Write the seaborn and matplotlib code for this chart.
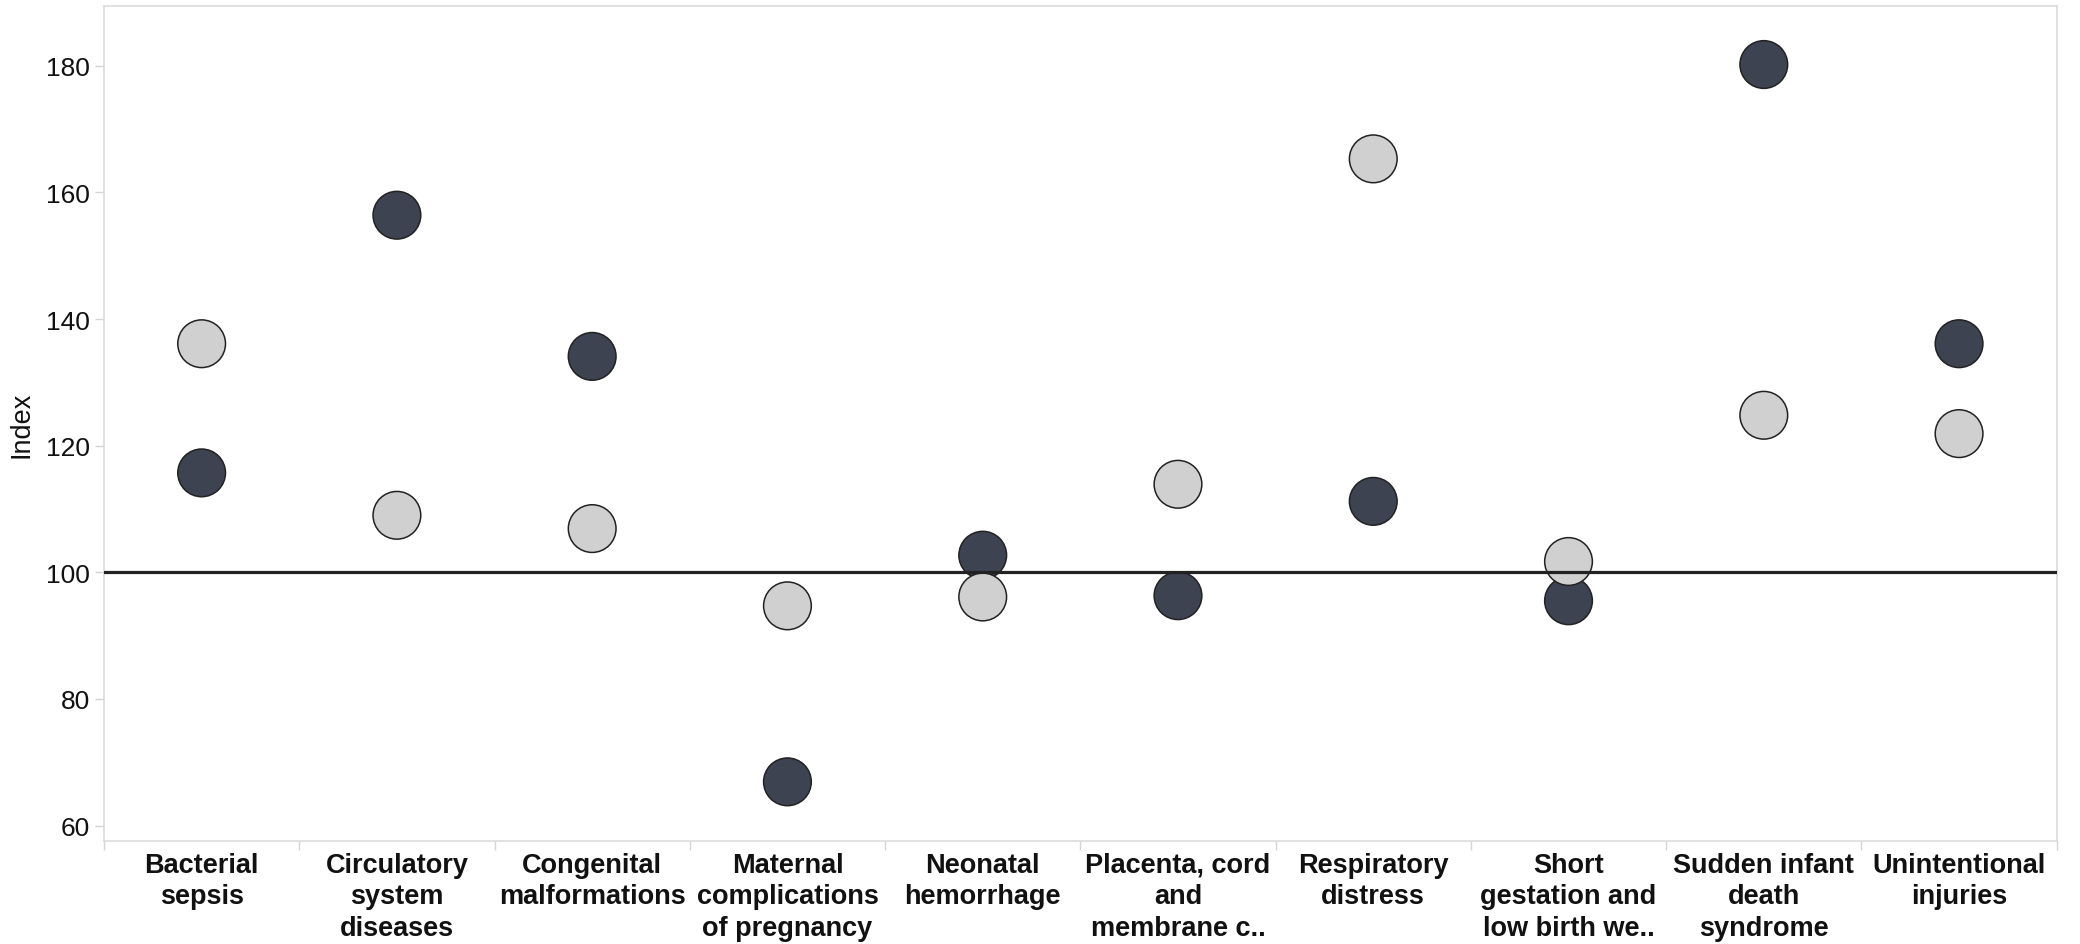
import pandas as pd
import matplotlib
matplotlib.use("Agg")
import matplotlib.pyplot as plt
import seaborn as sns
from matplotlib.ticker import FixedLocator

# categories as they appear on the x axis (wrapped like the original)
causes = [
    "Bacterial\nsepsis",
    "Circulatory\nsystem\ndiseases",
    "Congenital\nmalformations",
    "Maternal\ncomplications\nof pregnancy",
    "Neonatal\nhemorrhage",
    "Placenta, cord\nand\nmembrane c..",
    "Respiratory\ndistress",
    "Short\ngestation and\nlow birth we..",
    "Sudden infant\ndeath\nsyndrome",
    "Unintentional\ninjuries",
]
dark_vals = [115.7, 156.4, 134.1, 66.9, 102.7, 96.3, 111.2, 95.5, 180.2, 136.1]
light_vals = [136.1, 109.0, 106.9, 94.7, 96.1, 113.9, 165.3, 101.7, 124.8, 121.9]
series = ["Series A", "Series B"]
palette = {"Series A": "#3e4351", "Series B": "#d0d0d0"}
y_ticks = [60, 80, 100, 120, 140, 160, 180]
baseline = 100

df = pd.concat([
    pd.DataFrame({"cause": causes, "index": dark_vals, "series": series[0]}),
    pd.DataFrame({"cause": causes, "index": light_vals, "series": series[1]}),
], ignore_index=True)

sns.set_theme(style="white")
plt.rcParams["font.family"] = ["Liberation Sans", "DejaVu Sans"]
plt.rcParams["text.color"] = "#111111"
plt.rcParams["axes.labelcolor"] = "#111111"
plt.rcParams["xtick.labelcolor"] = "#111111"
plt.rcParams["ytick.labelcolor"] = "#111111"

fig = plt.figure(figsize=(20.8, 9.45), dpi=100)
ax = fig.add_axes([0.05, 0.1093, 0.9388, 0.8830])

sns.scatterplot(data=df, x="cause", y="index", hue="series", palette=palette,
                hue_order=series, s=1180, edgecolor="#222222", linewidth=1.1,
                alpha=1, legend=False, ax=ax, zorder=3)

ax.axhline(baseline, color="#222222", linewidth=2.3, zorder=4)

n = len(causes)
ax.set_xlim(-0.5, n - 0.5)
ax.set_ylim(57.6, 189.4)
ax.set_yticks(y_ticks)
ax.set_xticks(range(n))
ax.set_xticklabels(causes, fontsize=19.5, fontweight="bold", linespacing=1.27,
                   va="top")
ax.xaxis.set_minor_locator(FixedLocator([i - 0.5 for i in range(n + 1)]))

ax.tick_params(axis="x", which="major", length=0, pad=8)
ax.tick_params(axis="x", which="minor", length=6.5, width=1, color="#d4d4d4",
               bottom=True)
ax.tick_params(axis="y", which="major", length=6.5, width=1, color="#d4d4d4",
               labelsize=19, pad=3.5, left=True)

ax.set_xlabel("")
ax.set_ylabel("Index", fontsize=19.5, labelpad=8)

for sp in ax.spines.values():
    sp.set_color("#d9d9d9")
    sp.set_linewidth(1.1)

fig.savefig("out.png", dpi=100)
